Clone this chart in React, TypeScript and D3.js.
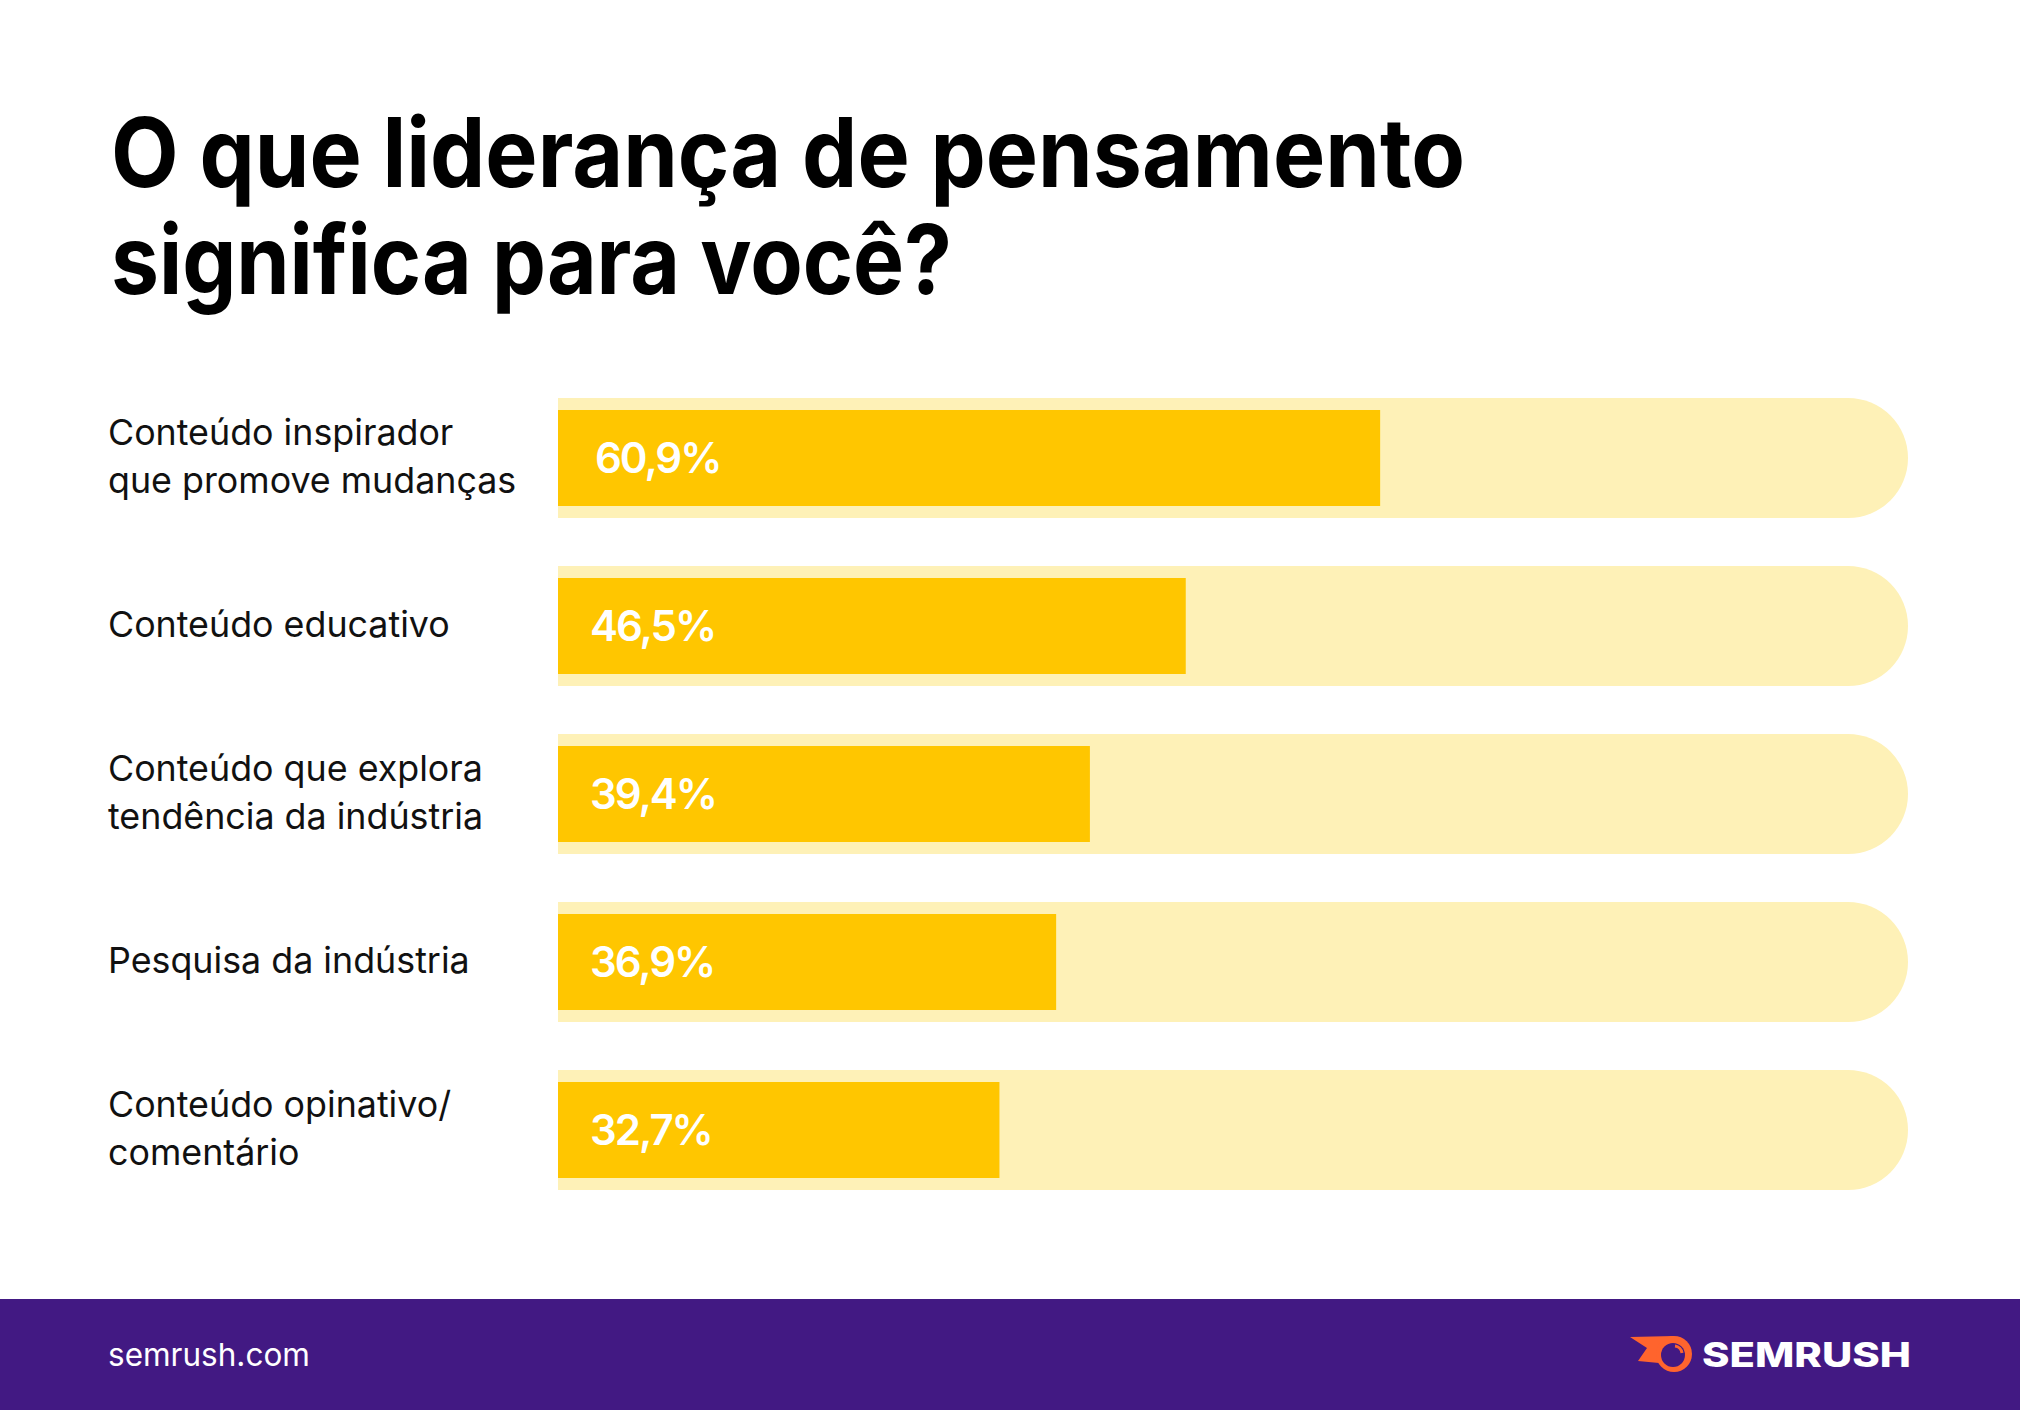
import React from "react";
import * as d3 from "d3";

const categories: string[][] = [
  ["Conteúdo inspirador", "que promove mudanças"],
  ["Conteúdo educativo"],
  ["Conteúdo que explora", "tendência da indústria"],
  ["Pesquisa da indústria"],
  ["Conteúdo opinativo/", "comentário"],
];
const values: number[] = [60.9, 46.5, 39.4, 36.9, 32.7];
const valueLabels: string[] = ["60,9%", "46,5%", "39,4%", "36,9%", "32,7%"];
const titleLines: string[] = ["O que liderança de pensamento", "significa para você?"];

const W = 2020;
const H = 1410;
const FONT = "Inter, 'Noto Sans', sans-serif";

export default function App() {
  const x = d3.scaleLinear().domain([0, 100]).range([558, 1908]);
  const keys = categories.map((_, i) => String(i));
  const y = d3
    .scaleBand<string>()
    .domain(keys)
    .range([398, 1190])
    .paddingInner(48 / 168)
    .paddingOuter(0);
  const bw = y.bandwidth();
  const inset = 12;

  const trackPath = (y0: number) => {
    const r = bw / 2;
    const x0 = x(0);
    const x1 = x(100);
    const p = d3.path();
    p.moveTo(x0, y0);
    p.lineTo(x1 - r, y0);
    p.arc(x1 - r, y0 + r, r, -Math.PI / 2, Math.PI / 2, false);
    p.lineTo(x0, y0 + bw);
    p.closePath();
    return p.toString();
  };

  const cx = 1674;
  const cy = 1354;

  return (
    <svg
      width={W}
      height={H}
      viewBox={`0 0 ${W} ${H}`}
      style={{ position: "absolute", left: 0, top: 0, background: "#fff" }}
    >
      <rect x={0} y={0} width={W} height={H} fill="#ffffff" />
      {titleLines.map((t, i) => (
        <text
          key={i}
          x={111}
          y={187 + i * 107}
          fontFamily={FONT}
          fontWeight={700}
          fontSize={96}
          fill="#000"
          textLength={i === 0 ? 1354 : 841}
          lengthAdjust="spacingAndGlyphs"
        >
          {t}
        </text>
      ))}

      {categories.map((lines, i) => {
        const y0 = y(String(i)) as number;
        const cyRow = y0 + bw / 2;
        return (
          <g key={i}>
            <path d={trackPath(y0)} fill="#FEF1B7" />
            <rect
              x={x(0)}
              y={y0 + inset}
              width={x(values[i]) - x(0)}
              height={bw - inset * 2}
              fill="#FFC600"
            />
            <text
              x={i === 0 ? 595 : 590}
              y={cyRow - 1}
              dominantBaseline="central"
              fontFamily={FONT}
              fontWeight={600}
              fontSize={42}
              letterSpacing={-2}
              fill="#fff"
            >
              {valueLabels[i]}
            </text>
            {lines.map((ln, j) => (
              <text
                key={j}
                x={108}
                y={cyRow - 2 + (j - (lines.length - 1) / 2) * 48}
                dominantBaseline="central"
                fontFamily={FONT}
                fontWeight={400}
                fontSize={35.8}
                fill="#111"
              >
                {ln}
              </text>
            ))}
          </g>
        );
      })}

      <rect x={0} y={1299} width={W} height={H - 1299} fill="#421983" />
      <text
        x={108}
        y={1366}
        fontFamily={FONT}
        fontWeight={400}
        fontSize={31.5}
        fill="#fff"
      >
        semrush.com
      </text>
      <g>
        <path
          d={`M ${cx} ${cy - 18} L ${cx - 44} ${cy - 17} L ${cx - 27} ${cy - 6} L ${cx - 36} ${cy + 7} L ${cx - 15} ${cy + 9} Z`}
          fill="#FF642D"
        />
        <circle cx={cx} cy={cy} r={18} fill="#FF642D" />
        <circle cx={cx - 1} cy={cy + 1} r={12} fill="#421983" />
        <path
          d={`M ${cx + 1} ${cy - 8} A 8 8 0 0 1 ${cx + 8} ${cy - 1}`}
          stroke="#FF642D"
          strokeWidth={3}
          fill="none"
        />
      </g>
      <text
        x={1702}
        y={1367}
        fontFamily={FONT}
        fontWeight={800}
        fontSize={34}
        fill="#fff"
        textLength={209}
        lengthAdjust="spacingAndGlyphs"
      >
        SEMRUSH
      </text>
    </svg>
  );
}
